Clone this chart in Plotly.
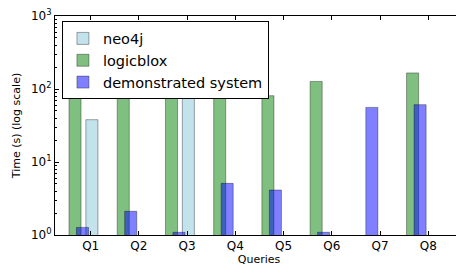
import plotly.graph_objects as go

queries = ["Q1", "Q2", "Q3", "Q4", "Q5", "Q6", "Q7", "Q8"]
neo4j = [38, None, 120, None, None, None, None, None]
logicblox = [83, 79, 79, 79, 81, 127, None, 166]
demonstrated = [1.27, 2.11, 1.09, 5.1, 4.13, 1.09, 56, 61]

idx = list(range(len(queries)))
W = 0.25

fig = go.Figure()
line = dict(color="rgba(0,0,0,0.35)", width=1)
fig.add_bar(name="neo4j", x=[i + 0.025 for i in idx], y=neo4j, width=W,
            marker=dict(color="rgba(173,216,230,0.75)", line=line))
fig.add_bar(name="logicblox", x=[i - 0.325 for i in idx], y=logicblox, width=W,
            marker=dict(color="rgba(0,128,0,0.5)", line=line))
fig.add_bar(name="demonstrated system", x=[i - 0.17 for i in idx], y=demonstrated, width=W,
            marker=dict(color="rgba(0,0,255,0.5)", line=line))

font = "DejaVu Sans"
# page body has an 8px margin, so the figure is sized to fit inside it
fig.update_layout(
    width=456, height=259,
    margin=dict(l=47, r=1, t=8, b=32, autoexpand=False),
    barmode="overlay",
    plot_bgcolor="white", paper_bgcolor="white",
    font=dict(family=font, size=11, color="black"),
    showlegend=True,
    legend=dict(x=0.017, y=0.975, xanchor="left", yanchor="top",
                bgcolor="white", bordercolor="black", borderwidth=1,
                font=dict(size=14.5, family=font), traceorder="normal",
                itemwidth=30, tracegroupgap=0),
)
fig.update_xaxes(
    range=[-0.74, 7.72], tickvals=idx, ticktext=queries,
    showline=True, linecolor="black", linewidth=1, mirror="allticks",
    ticks="inside", ticklen=4, tickcolor="black", showgrid=False, zeroline=False,
    title=dict(text="Queries", font=dict(size=11), standoff=2),
    tickfont=dict(size=12), automargin=False, ticklabeloverflow="allow",
)
fig.update_yaxes(
    type="log", range=[0, 3],
    tickvals=[1, 10, 100, 1000],
    ticktext=["10<sup>0</sup>", "10<sup>1</sup>", "10<sup>2</sup>", "10<sup>3</sup>"],
    showline=True, linecolor="black", linewidth=1, mirror="allticks",
    ticks="inside", ticklen=4, tickcolor="black", showgrid=False, zeroline=False,
    minor=dict(ticks="inside", ticklen=2, tickcolor="black", dtick="D1", showgrid=False),
    title=dict(text="Time (s) (log scale)", font=dict(size=11), standoff=8),
    tickfont=dict(size=12), automargin=False, ticklabeloverflow="allow",
)
fig.write_html("out.html")
